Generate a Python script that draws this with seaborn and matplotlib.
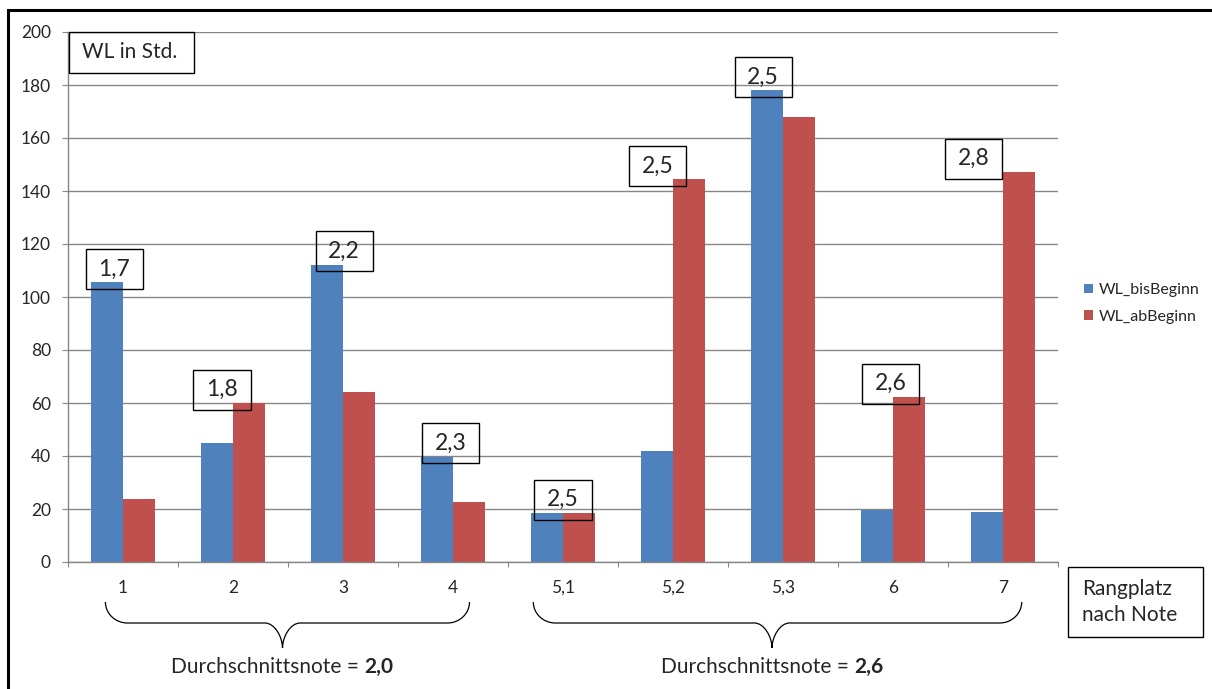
import matplotlib
matplotlib.use("Agg")
import matplotlib.pyplot as plt
from matplotlib.patches import Rectangle, PathPatch, Patch
from matplotlib.path import Path
from matplotlib.lines import Line2D
from matplotlib.transforms import blended_transform_factory
from matplotlib.ticker import FixedLocator
import pandas as pd
import seaborn as sns

# ---- data -------------------------------------------------------------
ranks = ["1", "2", "3", "4", "5,1", "5,2", "5,3", "6", "7"]
wl_bis_beginn = [105.5, 44.8, 112.2, 39.7, 18.5, 42.0, 178.0, 19.6, 18.8]
wl_ab_beginn = [23.6, 60.0, 64.2, 22.5, 18.5, 144.4, 167.8, 62.3, 147.2]
grades = ["1,7", "1,8", "2,2", "2,3", "2,5", "2,5", "2,5", "2,6", "2,8"]
series_names = ["WL_bisBeginn", "WL_abBeginn"]
group_means = ["2,0", "2,6"]
y_ticks = list(range(0, 201, 20))

# ---- layout / style ---------------------------------------------------
W, H = 1212, 689
colors = ["#4F81BD", "#C0504D"]
grid_col = "#868686"
grade_shift = [-0.08, -0.10, 0.01, -0.02, 0.0, -0.14, -0.18, -0.02, -0.27]
brace_spans = [(-0.16, 3.15, 1.45), (3.73, 8.17, 5.90)]


def fx(px):
    return px / W


def fy(py):
    return 1 - py / H


sns.set_style("white")
plt.rcParams["font.family"] = ["Lato", "DejaVu Sans"]

df = pd.DataFrame({
    "Rangplatz": ranks * 2,
    "WL": wl_bis_beginn + wl_ab_beginn,
    "Serie": [series_names[0]] * len(ranks) + [series_names[1]] * len(ranks),
})

fig = plt.figure(figsize=(W / 100, H / 100), dpi=100)
ax = fig.add_axes([fx(68), fy(562), (1058 - 68) / W, 530 / H])

sns.barplot(data=df, x="Rangplatz", y="WL", hue="Serie", order=ranks,
            hue_order=series_names, palette=colors, width=0.573, gap=0,
            linewidth=0, saturation=1, legend=False, ax=ax)

ax.set_xlim(-0.5, len(ranks) - 0.5)
ax.set_ylim(0, 200)
ax.set_xlabel("")
ax.set_ylabel("")
ax.set_yticks(y_ticks)
ax.set_yticklabels([str(v) for v in y_ticks])
ax.yaxis.grid(True, color=grid_col, lw=1.0)
ax.xaxis.grid(False)
ax.set_axisbelow(True)
for s in ("top", "right"):
    ax.spines[s].set_visible(False)
for s in ("left", "bottom"):
    ax.spines[s].set_color(grid_col)
    ax.spines[s].set_linewidth(1.0)

ax.tick_params(axis="y", direction="out", length=4.3, width=0.8,
               color=grid_col, labelsize=12.5, pad=8, left=True)
ax.tick_params(axis="x", which="major", length=0, labelsize=12.5, pad=13)
ax.xaxis.set_minor_locator(FixedLocator([i - 0.5 for i in range(len(ranks) + 1)]))
ax.tick_params(axis="x", which="minor", direction="out", length=3.6,
               width=0.8, color=grid_col, bottom=True)

# grade boxes above the bars
box_w, box_h = 0.52, 15.1
for i, g in enumerate(grades):
    top = max(wl_bis_beginn[i], wl_ab_beginn[i]) - 2.5
    cx = i + grade_shift[i]
    ax.add_patch(Rectangle((cx - box_w / 2, top), box_w, box_h, fill=False,
                           ec="black", lw=1.0, zorder=5, clip_on=False))
    ax.text(cx, top + box_h / 2, g, ha="center", va="center", fontsize=16.5,
            zorder=6)

# curly braces under the category groups
btr = blended_transform_factory(ax.transData, ax.transAxes)
y_top, y_mid, y_tip = (562 - 602) / 530, (562 - 623) / 530, (562 - 648) / 530
r_end, r_mid, k = 0.20, 0.16, 0.552
for x0, x1, xc in brace_spans:
    verts = [
        (x0, y_top),
        (x0, y_top + k * (y_mid - y_top)), (x0 + r_end * (1 - k), y_mid), (x0 + r_end, y_mid),
        (xc - r_mid, y_mid),
        (xc - r_mid * (1 - k), y_mid), (xc, y_mid + k * (y_tip - y_mid)), (xc, y_tip),
        (xc, y_mid + k * (y_tip - y_mid)), (xc + r_mid * (1 - k), y_mid), (xc + r_mid, y_mid),
        (x1 - r_end, y_mid),
        (x1 - r_end * (1 - k), y_mid), (x1, y_top + k * (y_mid - y_top)), (x1, y_top),
    ]
    codes = ([Path.MOVETO] + [Path.CURVE4] * 3 + [Path.LINETO] + [Path.CURVE4] * 6
             + [Path.LINETO] + [Path.CURVE4] * 3)
    ax.add_patch(PathPatch(Path(verts, codes), fill=False, ec="black", lw=0.9,
                           transform=btr, clip_on=False))

# axis caption boxes
fig.add_artist(Rectangle((fx(69), fy(73)), (194 - 69) / W, (73 - 32) / H,
                         transform=fig.transFigure, fill=False, ec="black", lw=1.0))
fig.text(fx(82), fy(52.5), "WL in Std.", fontsize=15, ha="left", va="center")

fig.add_artist(Rectangle((fx(1068), fy(637)), (1203 - 1068) / W, (637 - 567) / H,
                         transform=fig.transFigure, fill=False, ec="black", lw=1.0))
fig.text(fx(1082), fy(602), "Rangplatz\nnach Note", fontsize=15, ha="left",
         va="center", linespacing=1.33)

# legend
handles = [Patch(facecolor=c, edgecolor="none") for c in colors]
fig.legend(handles, series_names, loc="upper left",
           bbox_to_anchor=(fx(1084), fy(283)), frameon=False, fontsize=11.5,
           handlelength=0.55, handleheight=0.55, handletextpad=0.35,
           labelspacing=0.8, borderpad=0, borderaxespad=0)

# outer frame (left and top edge)
fig.add_artist(Line2D([fx(8), fx(8)], [fy(10), 0], transform=fig.transFigure,
                      color="black", lw=2.2))
fig.add_artist(Line2D([fx(8), 1], [fy(10), fy(10)], transform=fig.transFigure,
                      color="black", lw=2.2, solid_capstyle="projecting"))

# group averages below the braces, with the value in bold
fig.canvas.draw()
renderer = fig.canvas.get_renderer()
for (x0, x1, xc), mean in zip(brace_spans, group_means):
    cx_px = ax.transData.transform((xc, 0))[0]
    t1 = fig.text(0, 0, "Durchschnittsnote = ", fontsize=15, ha="left", va="baseline")
    t2 = fig.text(0, 0, mean, fontsize=15, fontweight="bold", ha="left", va="baseline")
    w1 = t1.get_window_extent(renderer).width
    w2 = t2.get_window_extent(renderer).width
    left = cx_px - (w1 + w2) / 2
    t1.set_position((left / W, fy(673)))
    t2.set_position(((left + w1) / W, fy(673)))

fig.savefig("out.png", dpi=100)
